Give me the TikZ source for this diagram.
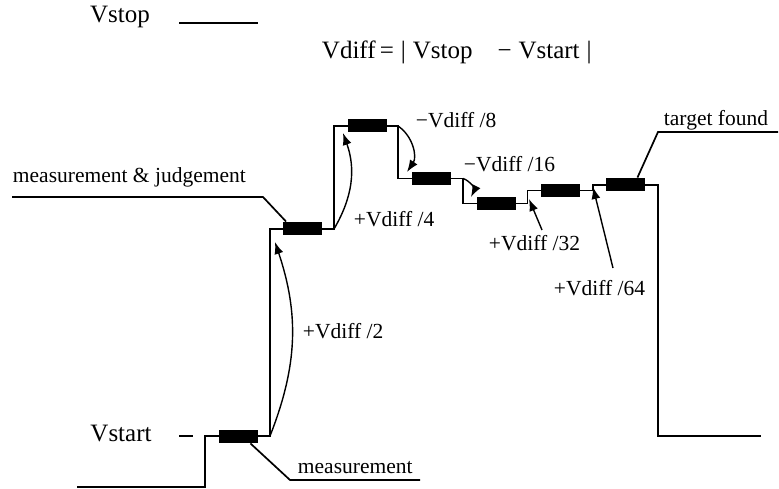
\documentclass[tikz,border=0pt]{standalone}
\usepackage{fontspec}
\setmainfont{Liberation Serif}
\usetikzlibrary{arrows.meta,positioning}
\tikzstyle{probe}=[rectangle,fill=black,minimum width=39pt,minimum height=13pt,inner sep=0pt]
\tikzstyle{jump}=[-{Latex[length=12pt,width=9pt]},line width=1.4pt]
\tikzstyle{lead}=[line width=1.7pt]
\tikzstyle{small}=[inner sep=0pt,font=\fontsize{21.5}{24}\selectfont]
\tikzstyle{big}=[inner sep=0pt,font=\fontsize{25}{28}\selectfont]

\begin{document}
\begin{tikzpicture}[x=1pt,y=1pt,line width=1.9pt]
            \useasboundingbox (0,0) rectangle (779,488);

            % HEADER PART

            \node[big] (vstop) at (120,471) {Vstop};
            \draw (179,465) -- (258,465);
            \node[big,anchor=west] (vdiff) at (321,436) {Vdiff\,=\;|\;Vstop\quad−\;Vstart\;|};

            % STEPS PART

            \draw (77,1) -- (205,1) -- (205,52) -- (270,52) -- (270,259) -- (334,259)
                -- (334,362) -- (398,362) -- (398,309.5) -- (463,309.5) -- (463,284.5)
                -- (527.5,284.5) -- (527.5,297.5) -- (593,297.5) -- (593,303) -- (658,303)
                -- (658,52) -- (761,52);

            \node[probe] (b1) at (238,52) {};
            \node[probe] (b2) at (302.5,259) {};
            \node[probe] (b3) at (367,362) {};
            \node[probe] (b4) at (431.5,309.5) {};
            \node[probe] (b5) at (496,284.5) {};
            \node[probe] (b6) at (560.5,297.5) {};
            \node[probe] (b7) at (625,303) {};

            \node[big] (vstart) at (121,54.5) {Vstart};
            \draw (179,52) -- (193,52);

            % JUMPS PART

            \coordinate (s1) at (270,52);
            \coordinate (s2) at (334,259);
            \coordinate (s3) at (398,362);
            \coordinate (s4) at (463,309.5);
            \coordinate (a2) at (275,246);
            \coordinate (a4) at (343,355);
            \coordinate (a8) at (407,316);
            \coordinate (a16) at (471,291);
            \coordinate (a32) at (529,289);
            \coordinate (a64) at (593,301);

            \path[jump] (s1) edge[bend right=20] (a2);
            \path[jump] (s2) edge[bend right=25] (a4);
            \path[jump] (s3) edge[bend left=45] (a8);
            \path[jump] (s4) edge[bend left=50] (a16);

            \node[small,anchor=west] (d2) at (302,157) {+Vdiff /2};
            \node[small,anchor=west] (d4) at (353,269) {+Vdiff /4};
            \node[small,anchor=west] (d8) at (415,368) {−Vdiff /8};
            \node[small,anchor=west] (d16) at (463,324) {−Vdiff /16};
            \node[small,anchor=west] (d32) at (488,245) {+Vdiff /32};
            \node[small,anchor=west] (d64) at (553,200) {+Vdiff /64};

            \path[jump] (542,258) edge (a32);
            \path[jump] (613,220) edge (a64);

            % LEADERS PART

            \node[small,anchor=west] (mj) at (12,311) {measurement \& judgement};
            \draw[lead] (12,291) -- (263,291) -- ([xshift=4pt]b2.north west);

            \node[small,anchor=west] (ms) at (297,20) {measurement};
            \draw[lead] ([xshift=-8pt]b1.south east) -- (290,8) -- (420,8);

            \node[small,anchor=west] (tf) at (663,368) {target found};
            \draw[lead] (778,356) -- (658,356) -- ([xshift=-8pt]b7.north east);

\end{tikzpicture}
\end{document}
